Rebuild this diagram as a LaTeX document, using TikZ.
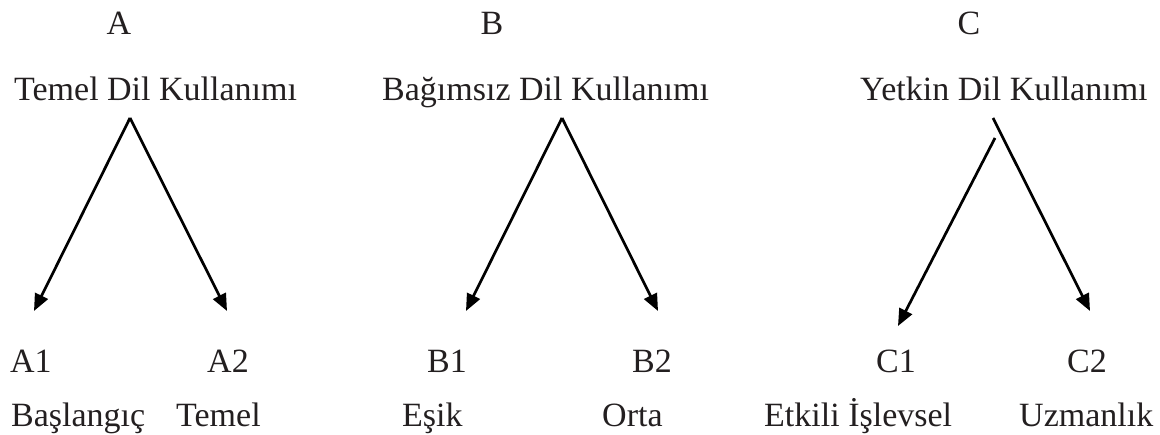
\documentclass[tikz,border=0pt]{standalone}
\usepackage{fontspec}
\setmainfont{Liberation Serif}
\usetikzlibrary{arrows.meta}
\definecolor{txt}{RGB}{35,31,32}
\begin{document}
\begin{tikzpicture}[x=1pt,y=-1pt,
  lbl/.style={inner sep=0pt,text=txt,font=\fontsize{34}{40}\selectfont},
  arr/.style={line width=2.7pt,-{Triangle[length=17pt,width=14pt]}}]
\useasboundingbox (0,0) rectangle (1160,435);
% group A
\node[lbl,anchor=base] (A) at (119,35) {A};
\node[lbl,anchor=base west] (Ah) at (14,101) {Temel Dil Kullanımı};
\coordinate (Aap) at (130,118);
\coordinate (At1) at (34,311);
\coordinate (At2) at (227,311);
\draw[arr] (Aap) -- (At1);
\draw[arr] (Aap) -- (At2);
\node[lbl,anchor=base west] (A1) at (10,373) {A1};
\node[lbl,anchor=base west] (A2) at (207,373) {A2};
\node[lbl,anchor=base west] (A1t) at (11,427) {Başlangıç};
\node[lbl,anchor=base west] (A2t) at (176,427) {Temel};
% group B
\node[lbl,anchor=base] (B) at (492,35) {B};
\node[lbl,anchor=base west] (Bh) at (382,101) {Bağımsız Dil Kullanımı};
\coordinate (Bap) at (562,118);
\coordinate (Bt1) at (466,311);
\coordinate (Bt2) at (658,311);
\draw[arr] (Bap) -- (Bt1);
\draw[arr] (Bap) -- (Bt2);
\node[lbl,anchor=base west] (B1) at (427,373) {B1};
\node[lbl,anchor=base west] (B2) at (632,373) {B2};
\node[lbl,anchor=base west] (B1t) at (402,427) {Eşik};
\node[lbl,anchor=base west] (B2t) at (602,427) {Orta};
% group C
\node[lbl,anchor=base] (C) at (969,35) {C};
\node[lbl,anchor=base west] (Ch) at (860,101) {Yetkin Dil Kullanımı};
\coordinate (Cap1) at (995,138);
\coordinate (Cap2) at (993,118);
\coordinate (Ct1) at (898,326);
\coordinate (Ct2) at (1090,311);
\draw[arr] (Cap1) -- (Ct1);
\draw[arr] (Cap2) -- (Ct2);
\node[lbl,anchor=base west] (C1) at (876,373) {C1};
\node[lbl,anchor=base west] (C2) at (1067,373) {C2};
\node[lbl,anchor=base west] (C1t) at (764,427) {Etkili İşlevsel};
\node[lbl,anchor=base west] (C2t) at (1019,427) {Uzmanlık};
\end{tikzpicture}
\end{document}
